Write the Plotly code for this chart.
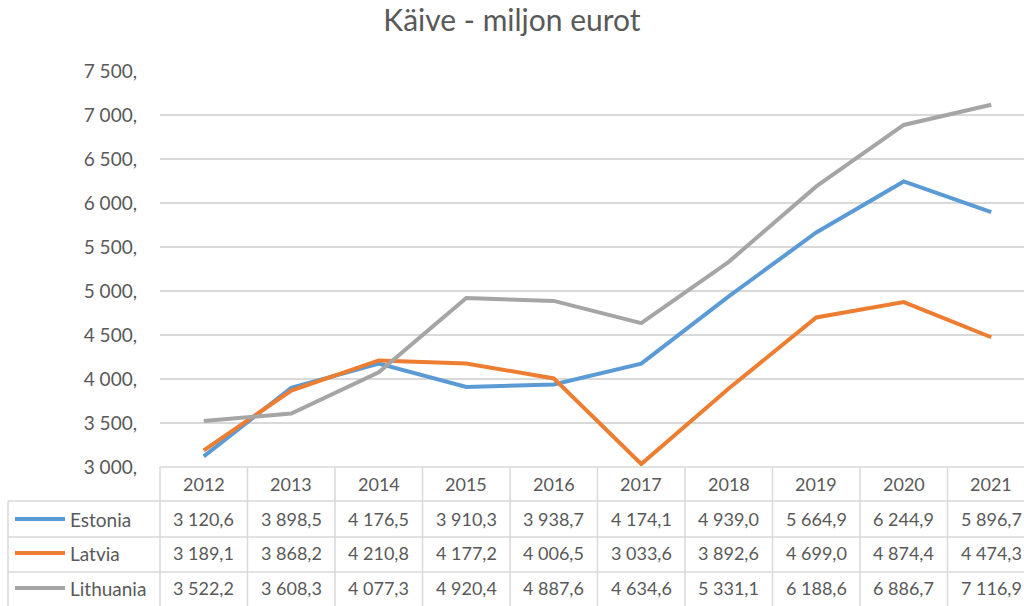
import plotly.graph_objects as go

years = ["2012", "2013", "2014", "2015", "2016", "2017", "2018", "2019", "2020", "2021"]
series_names = ["Estonia", "Latvia", "Lithuania"]
estonia = [3120.6, 3898.5, 4176.5, 3910.3, 3938.7, 4174.1, 4939.0, 5664.9, 6244.9, 5896.7]
latvia = [3189.1, 3868.2, 4210.8, 4177.2, 4006.5, 3033.6, 3892.6, 4699.0, 4874.4, 4474.3]
lithuania = [3522.2, 3608.3, 4077.3, 4920.4, 4887.6, 4634.6, 5331.1, 6188.6, 6886.7, 7116.9]
y_tickvals = [3000, 3500, 4000, 4500, 5000, 5500, 6000, 6500, 7000, 7500]
y_ticktext = ["3 000,", "3 500,", "4 000,", "4 500,", "5 000,", "5 500,", "6 000,", "6 500,", "7 000,", "7 500,"]
title_text = "Käive - miljon eurot"

colors = ["#5B9BD5", "#ED7D31", "#A5A5A5"]
all_series = [estonia, latvia, lithuania]

W, H = 1024, 606
FONT = "Lato"
TXT = "#595959"
GRID = "#D9D9D9"

# layout geometry (pixels)
x0 = 160.0
colw = 87.5
y_top = 71.0
y_bot = 467.0
row_edges = [467, 501, 537, 572, 610]


def px(x):
    return x / W


def py(y):
    return 1 - y / H


def fmt(v):
    s = f"{v:,.1f}"
    return s.replace(",", " ").replace(".", ",")


fig = go.Figure()
for name, vals, c in zip(series_names, all_series, colors):
    fig.add_trace(go.Scatter(x=years, y=vals, mode="lines", name=name,
                             line=dict(color=c, width=4), showlegend=False))

right_range = -0.5 + (W - x0) / colw

fig.update_layout(
    template="none",
    width=W, height=H,
    margin=dict(l=0, r=0, t=0, b=0, pad=0, autoexpand=False),
    showlegend=False,
    paper_bgcolor="white", plot_bgcolor="white",
    font=dict(family=FONT, color=TXT, size=18),
    title=dict(text=title_text, x=0.5, xanchor="center", y=py(20), yanchor="middle",
               font=dict(family=FONT, size=30, color=TXT)),
    xaxis=dict(type="category", domain=[px(x0), 1], range=[-0.5, right_range], automargin=False,
               showticklabels=False, showgrid=False, zeroline=False, showline=False, ticks=""),
    yaxis=dict(domain=[py(y_bot), py(y_top)], range=[3000, 7500], automargin=False,
               tickvals=y_tickvals, ticktext=y_ticktext, showgrid=True, gridcolor=GRID,
               gridwidth=1.5, zeroline=False, showline=False, ticks="",
               ticklabelstandoff=22, tickfont=dict(size=19, color=TXT)),
)

shapes = []
for i, ye in enumerate(row_edges[:-1]):
    left = x0 if i == 0 else 8
    shapes.append(dict(type="line", xref="paper", yref="paper", x0=px(left), x1=1.02,
                       y0=py(ye), y1=py(ye), line=dict(color=GRID, width=1.5)))
for k in range(11):
    xe = x0 + k * colw
    shapes.append(dict(type="line", xref="paper", yref="paper", x0=px(xe), x1=px(xe),
                       y0=py(row_edges[0]), y1=py(row_edges[-1]), line=dict(color=GRID, width=1.5)))
shapes.append(dict(type="line", xref="paper", yref="paper", x0=px(8), x1=px(8),
                   y0=py(row_edges[1]), y1=py(row_edges[-1]), line=dict(color=GRID, width=1.5)))

annotations = []
hdr_y = (row_edges[0] + row_edges[1]) / 2
for k, yr in enumerate(years):
    cx = x0 + (k + 0.5) * colw
    annotations.append(dict(text=yr, xref="paper", yref="paper", x=px(cx), y=py(hdr_y),
                            showarrow=False, xanchor="center", yanchor="middle",
                            font=dict(family=FONT, size=18, color=TXT)))

row_centers = [519, 553, 588]
for r, (name, vals, c) in enumerate(zip(series_names, all_series, colors)):
    cy = row_centers[r]
    shapes.append(dict(type="line", xref="paper", yref="paper", x0=px(15), x1=px(65),
                       y0=py(cy), y1=py(cy), line=dict(color=c, width=4)))
    annotations.append(dict(text=name, xref="paper", yref="paper", x=px(68), y=py(cy),
                            showarrow=False, xanchor="left", yanchor="middle",
                            font=dict(family=FONT, size=19, color=TXT)))
    for k, v in enumerate(vals):
        cx = x0 + (k + 0.5) * colw
        annotations.append(dict(text=fmt(v), xref="paper", yref="paper", x=px(cx), y=py(cy),
                                showarrow=False, xanchor="center", yanchor="middle",
                                font=dict(family=FONT, size=18, color=TXT)))

fig.update_layout(shapes=shapes, annotations=annotations)
fig.write_html("out.html", config={"displayModeBar": False},
               post_script="document.body.style.margin='0';document.body.style.overflow='hidden';")
